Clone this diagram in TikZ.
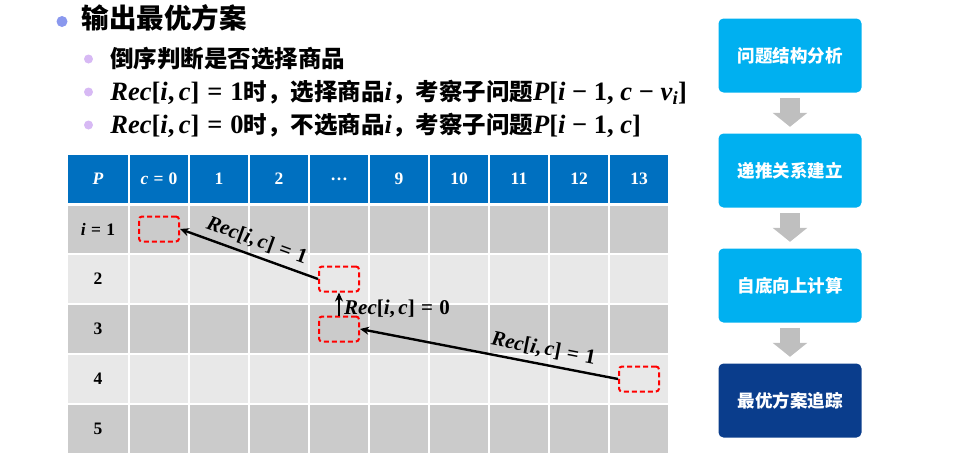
\documentclass[tikz,border=0pt]{standalone}
\usepackage{fontspec}
\setmainfont{Liberation Serif}
\newfontfamily\cjk{Noto Sans CJK SC}
\usetikzlibrary{arrows.meta, positioning, calc}

\definecolor{hdrblue}{HTML}{0070C0}
\definecolor{rowdark}{HTML}{CBCBCB}
\definecolor{rowlight}{HTML}{E8E8E8}
\definecolor{stepcyan}{HTML}{00B0F0}
\definecolor{stepnavy}{HTML}{0A3D8C}
\definecolor{flowgray}{HTML}{BFBFBF}
\definecolor{dotblue}{HTML}{8A98EE}
\definecolor{dotlilac}{HTML}{D7B9F4}

% formulas set in bold serif, variables in italic
\newcommand{\fml}[1]{{\rmfamily\bfseries #1}}
\newcommand{\fmlbig}[1]{{\fontsize{26.5}{28}\selectfont\fml{#1}}}
\newcommand{\vr}[1]{\textit{#1}}
\newcommand{\eq}{\hspace{0.3em}=\hspace{0.3em}}
\newcommand{\recval}[1]{\fml{\vr{Rec}[\vr{i},\,\vr{c}]\eq #1}}

\begin{document}
\begin{tikzpicture}[
    x=1pt, y=-1pt,
    topdot/.style={circle, fill=dotblue, minimum size=11pt, inner sep=0pt},
    subdot/.style={circle, fill=dotlilac, minimum size=9pt, inner sep=0pt},
    titletext/.style={inner sep=0pt, font=\cjk\bfseries\fontsize{27.5}{30}\selectfont},
    subtext/.style={inner sep=0pt, font=\cjk\bfseries\fontsize{23.5}{26}\selectfont},
    tcell/.style={rectangle, draw=white, line width=1.2pt, minimum height=50pt, inner sep=0pt, font=\bfseries\fontsize{17.5}{20}\selectfont},
    trace/.style={rectangle, draw=red, dash pattern=on 5pt off 3pt, line width=2pt, rounded corners=3pt, minimum width=40pt, minimum height=25pt},
    tracearrow/.style={-{Stealth[length=9pt, width=8pt]}, line width=2.4pt, draw=black},
    reclabel/.style={inner sep=1pt, font=\fontsize{21}{23}\selectfont},
    stepbox/.style={rectangle, rounded corners=5pt, minimum width=143pt, minimum height=74pt, text=white, font=\cjk\bfseries\fontsize{17.5}{20}\selectfont},
    flowarrow/.style={-{Triangle[length=14pt, width=34pt]}, line width=20pt, draw=flowgray, shorten <=5.5pt, shorten >=6.5pt}
]
\useasboundingbox (0,0) rectangle (956,461);

% ============ BULLETS ============
\node[topdot] (d0) at (62,21.5) {};
\node[titletext, right=14pt of d0, yshift=3.5pt] (title) {输出最优方案};
\node[subdot] (d1) at (88.5,59) {};
\node[subtext, right=17pt of d1] (line1) {倒序判断是否选择商品};
\node[subdot] (d2) at (88.5,92) {};
\node[subtext, right=17pt of d2] (line2) {\fmlbig{\recval{1}}时，选择商品\fmlbig{\vr{i}}，考察子问题\fmlbig{\vr{P}[\vr{i} − 1, \vr{c} − \vr{v}\textsubscript{\vr{i}}]}};
\node[subdot] (d3) at (88.5,125) {};
\node[subtext, right=17pt of d3] (line3) {\fmlbig{\recval{0}}时，不选商品\fmlbig{\vr{i}}，考察子问题\fmlbig{\vr{P}[\vr{i} − 1, \vr{c}]}};

% ============ TABLE ============
% header row
\foreach \lab [count=\j from 0] in {\vr{P}, \vr{c}\eq 0, 1, 2, …, 9, 10, 11, 12, 13} {
    \pgfmathsetmacro{\cx}{\j==0 ? 98 : 99+60*\j}
    \pgfmathsetmacro{\cw}{\j==0 ? 62 : 60}
    \node[tcell, fill=hdrblue, text=white, minimum width=\cw pt] (hd-\j) at (\cx,179) {\lab};
}
% body rows
\foreach \i in {1,...,5} {
    \ifodd\i \def\rowcol{rowdark}\else \def\rowcol{rowlight}\fi
    \foreach \j in {0,...,9} {
        \pgfmathsetmacro{\cx}{\j==0 ? 98 : 99+60*\j}
        \pgfmathsetmacro{\cw}{\j==0 ? 62 : 60}
        \node[tcell, fill=\rowcol, minimum width=\cw pt] (cell-\i-\j) at (\cx,179+50*\i)
            {\ifnum\j=0 \ifnum\i=1 \vr{i}\eq 1\else\i\fi\fi};
    }
}
\draw[white, line width=3pt] (hd-0.south west) -- (hd-9.south east);

% ============ TRACE BACK ============
\node[trace] (tr1) at (cell-1-1) {};
\node[trace] (tr2) at (cell-2-4) {};
\node[trace] (tr3) at (cell-3-4) {};
\node[trace] (tr4) at (cell-4-9) {};

\draw[tracearrow] (tr2.west) -- node[reclabel, sloped, above=4pt, pos=0.48] {\recval{1}} (tr1.east);
\draw[tracearrow] (tr3.north) -- node[reclabel, right=3pt, pos=0.3] {\recval{0}} (tr2.south);
\draw[tracearrow] (tr4.west) -- node[reclabel, sloped, above=4pt, pos=0.3] {\recval{1}} (tr3.east);

% ============ FLOW ============
\node[stepbox, fill=stepcyan] (s1) at (790,55.5) {问题结构分析};
\node[stepbox, fill=stepcyan, below=40.6pt of s1] (s2) {递推关系建立};
\node[stepbox, fill=stepcyan, below=40.6pt of s2] (s3) {自底向上计算};
\node[stepbox, fill=stepnavy, below=40.6pt of s3] (s4) {最优方案追踪};

\foreach \a/\b in {s1/s2, s2/s3, s3/s4}
    \draw[flowarrow] (\a.south) -- (\b.north);

\end{tikzpicture}
\end{document}
